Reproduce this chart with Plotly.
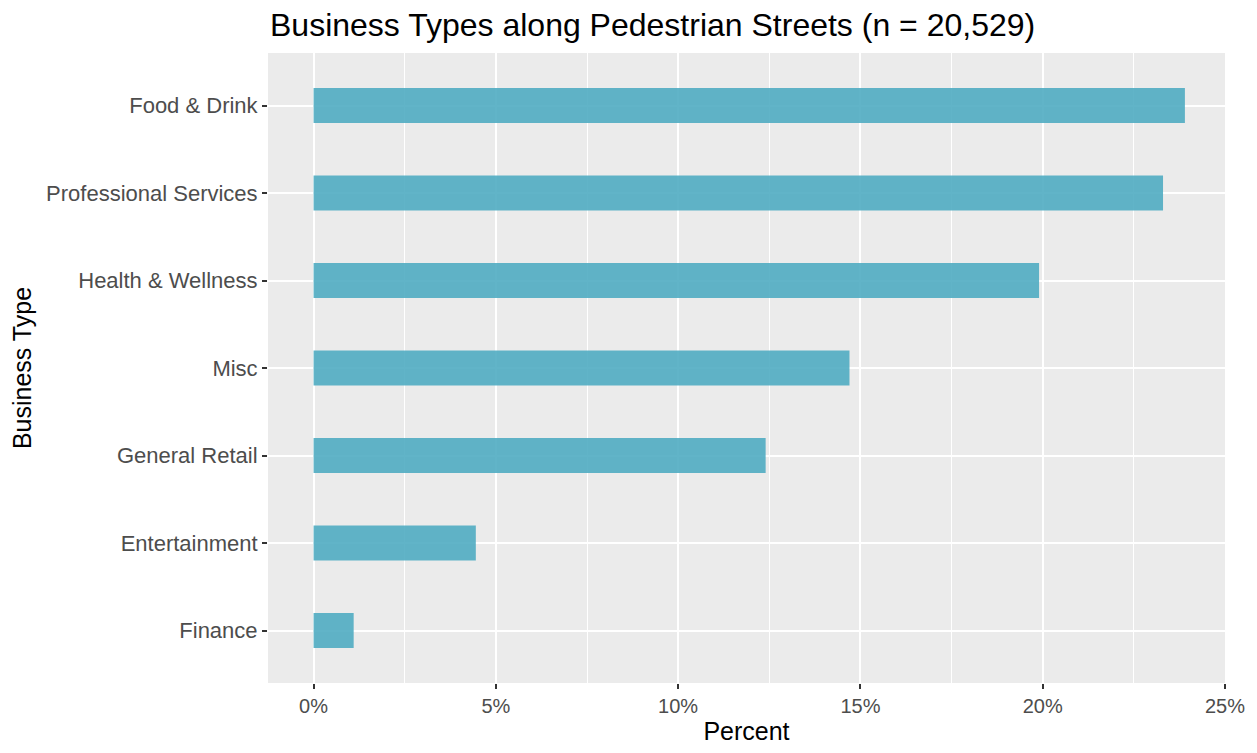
import plotly.graph_objects as go

categories = ["Finance", "Entertainment", "General Retail", "Misc",
              "Health & Wellness", "Professional Services", "Food & Drink"]
percent = [1.1, 4.45, 12.4, 14.7, 19.9, 23.3, 23.9]
x_ticks = [0, 5, 10, 15, 20, 25]
x_tick_labels = ["0%", "5%", "10%", "15%", "20%", "25%"]

fig = go.Figure()
fig.add_trace(go.Bar(
    x=percent, y=categories, orientation="h", width=0.4,
    marker=dict(color="rgba(75,170,192,0.88)", line=dict(width=0)),
))

font_family = "Liberation Sans, Arial, sans-serif"
W, H = 1249, 745
fig.update_layout(
    width=W, height=H,
    margin=dict(l=260, r=27, t=45, b=69),
    paper_bgcolor="white", plot_bgcolor="#EBEBEB",
    showlegend=False,
    title=dict(text="Business Types along Pedestrian Streets (n = 20,529)",
               x=262/W, xanchor="left", y=1-17/H, yanchor="middle",
               font=dict(family=font_family, size=32, color="black")),
    font=dict(family=font_family),
)
fig.update_xaxes(
    range=[-1.25, 25.0], tickvals=x_ticks, ticktext=x_tick_labels,
    showgrid=True, gridcolor="white", gridwidth=1.6,
    minor=dict(dtick=2.5, tick0=0, showgrid=True, gridcolor="white", gridwidth=0.8, ticks=""),
    zeroline=False, showline=False,
    ticks="outside", ticklen=5, tickwidth=1.6, tickcolor="#333333",
    tickfont=dict(size=20, color="#4D4D4D", family=font_family),
    title=dict(text="Percent", font=dict(size=25, color="black", family=font_family), standoff=6),
)
fig.update_yaxes(
    categoryorder="array", categoryarray=categories,
    range=[-0.6, 6.6],
    showgrid=True, gridcolor="white", gridwidth=1.6,
    zeroline=False, showline=False,
    ticks="outside", ticklen=5, tickwidth=1.6, tickcolor="#333333",
    tickfont=dict(size=22, color="#4D4D4D", family=font_family),
    title=dict(text="Business Type", font=dict(size=25, color="black", family=font_family), standoff=8),
)
fig.write_html("out.html")
